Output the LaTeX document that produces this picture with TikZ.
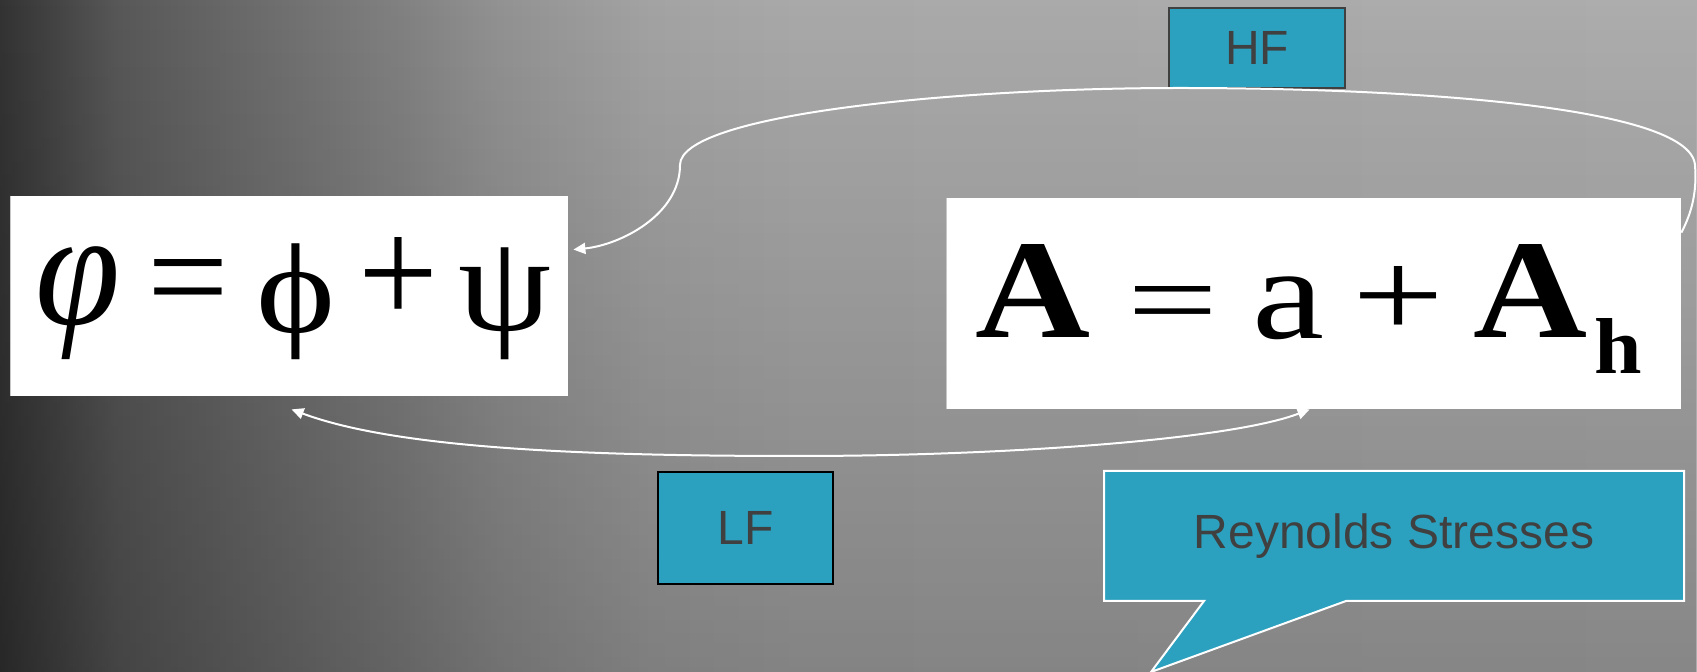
\documentclass[tikz,border=0pt]{standalone}
\usepackage{fontspec}
\setmainfont{Liberation Serif}
\newfontfamily\arialf{Liberation Sans}
\usetikzlibrary{arrows.meta,fadings,calc}
\definecolor{tealbox}{HTML}{2BA1BF}
\definecolor{tagtext}{HTML}{404040}
\definecolor{bgA}{HTML}{333333}
\definecolor{bgB}{HTML}{585858}
\definecolor{bgC}{HTML}{727272}
\definecolor{bgD}{HTML}{818181}
\definecolor{bgE}{HTML}{929292}
\definecolor{bgF}{HTML}{A3A3A3}
\definecolor{bgG}{HTML}{A9A9A9}
\definecolor{bgH}{HTML}{ADADAD}
\pgfdeclarehorizontalshading{bgshade}{100bp}{color(0bp)=(bgA); color(25bp)=(bgA); color(28.5bp)=(bgB); color(33.8bp)=(bgC); color(36.8bp)=(bgD); color(39.7bp)=(bgE); color(44.2bp)=(bgF); color(48.6bp)=(bgG); color(75bp)=(bgH); color(100bp)=(bgH)}
\tikzfading[name=fadedown, top color=transparent!100, bottom color=transparent!0]
% glyph sized to width #1 and total height #2
\newcommand\glyphfit[3]{\resizebox*{#1}{#2}{#3}}
\begin{document}
\begin{tikzpicture}[x=0.5pt,y=-0.5pt,
  eqbox/.style={fill=white, draw=none, inner sep=0pt},
  gl/.style={inner sep=0pt, text=black, anchor=south, font=\fontsize{70}{70}\selectfont},
  glb/.style={inner sep=0pt, text=black, anchor=base, font=\fontsize{70}{70}\selectfont},
  tagbox/.style={fill=tealbox, text=tagtext, inner sep=0pt, line width=1pt,
     font=\arialf\fontsize{24}{28}\selectfont},
  conn/.style={draw=white, line width=1pt},
  tip/.style={-{Triangle[length=6pt,width=5.5pt,fill=white]}},
  tips/.style={{Triangle[length=6pt,width=5.5pt,fill=white]}-{Triangle[length=6pt,width=5.5pt,fill=white]}},
  edgeline/.style={draw=black!22, line width=0.6pt}
]
\useasboundingbox (0,0) rectangle (1697,672);
% background
\shade[shading=bgshade] (0,0) rectangle (1697,672);
\fill[black, path fading=fadedown, fill opacity=0.22] (0,0) rectangle (1697,672);

% equation boxes
\node[eqbox, minimum width=278.5pt, minimum height=100pt] (L) at (289.5,296) {};
\node[eqbox, minimum width=367pt, minimum height=105.5pt] (R) at (1314,303.5) {};
\draw[edgeline] (L.north west) -- (L.south west);
\draw[edgeline] (R.north west) -- (R.south west);

% left equation: phi = phi + psi
\node[gl]  (l1) at (78.5,360) {\glyphfit{42.5pt}{56.5pt}{\itshape φ}};
\node[glb] (l2) at (188.5,325) {\glyphfit{40.8pt}{32.5pt}{=}};
\node[gl]  (l3) at (296,360)  {\glyphfit{39.5pt}{58pt}{ϕ}};
\node[glb] (l4) at (398,325)  {\glyphfit{40pt}{43.5pt}{+}};
\node[gl]  (l5) at (505,360)  {\glyphfit{46.5pt}{56pt}{ψ}};

% right equation: A = a + A_h
\node[gl]  (r1) at (1032.5,338) {\glyphfit{57.5pt}{46.5pt}{\bfseries A}};
\node[glb] (r2) at (1173,338)   {\glyphfit{45.5pt}{25.5pt}{=}};
\node[gl]  (r3) at (1288,340)   {\glyphfit{36pt}{31.5pt}{a}};
\node[glb] (r4) at (1398.5,338) {\glyphfit{46pt}{35.5pt}{+}};
\node[gl]  (r5) at (1530,338)   {\glyphfit{57pt}{46.5pt}{\bfseries A}};
\node[gl]  (r6) at (1618,374)   {\glyphfit{23.75pt}{27.5pt}{\bfseries h}};

% tags
\node[tagbox, draw=tagtext, minimum width=88pt, minimum height=40pt] (HF) at (1257,48) {HF};
\node[tagbox, draw=black, minimum width=87.5pt, minimum height=56pt] (LF) at (745.5,528) {LF};
\node[tagbox, minimum width=289pt, minimum height=64pt] (RS) at (1394,536) {};
\coordinate (rsA) at ($(RS.south west)+(100,0)$);
\coordinate (rsB) at ($(RS.south west)+(242,0)$);
\coordinate (rsTip) at ($(RS.south west)+(47,71)$);
\fill[tealbox] (RS.south west) rectangle (RS.north east);
\fill[tealbox] (rsA) -- (rsTip) -- (rsB) -- cycle;
\draw[white, line width=1pt, line join=miter]
  (RS.south west) -- (RS.north west) -- (RS.north east) -- (RS.south east)
  -- (rsB) -- (rsTip) -- (rsA) -- cycle;
\node[text=tagtext, font=\arialf\fontsize{24}{28}\selectfont, inner sep=0pt] (RStext) at (RS.center) {Reynolds Stresses};

% HF connector
\coordinate (hs) at ($(R.north east)+(0,35)$);
\coordinate (he) at ($(L.north east)+(5,54)$);
\draw[conn, tip] (hs) .. controls (1692,212) and (1697,192) .. (1695,165)
  .. controls (1690,105) and (1400,88) .. (1180,88)
  .. controls (950,88) and (680,115) .. (680,165)
  .. controls (680,215) and (620,245) .. (he);

% LF connector
\coordinate (lf1) at ($(L.south west)+(281,13)$);
\coordinate (lf2) at ($(R.south west)+(363,0)$);
\draw[conn, tips] (lf1) .. controls (400,450) and (600,456) .. (800,456)
  .. controls (1000,456) and (1230,440) .. (lf2);
\end{tikzpicture}
\end{document}
